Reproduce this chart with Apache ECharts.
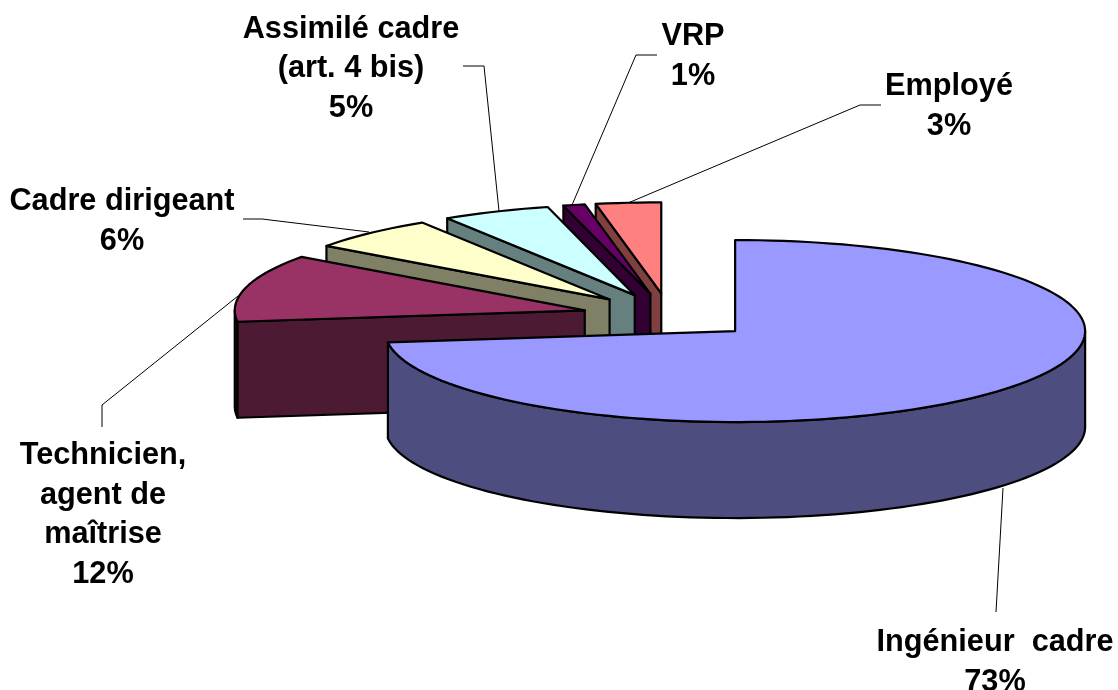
<!DOCTYPE html>
<html>
<head>
<meta charset="utf-8">
<style>html,body{margin:0;padding:0;background:#fff}#c{width:1118px;height:690px}</style>
<script src="https://cdn.jsdelivr.net/npm/echarts@6/dist/echarts.min.js"></script>
</head>
<body>
<div id="c"></div>
<script>
// Data, clockwise from 12 o'clock
const categories = ['Ingénieur  cadre', 'Technicien,\nagent de\nmaîtrise', 'Cadre dirigeant', 'Assimilé cadre\n(art. 4 bis)', 'VRP', 'Employé'];
const shares = [73, 12, 6, 5, 1, 3];
const topColors = ['#9999FF', '#993366', '#FFFFCC', '#CCFFFF', '#660066', '#FF8080'];
const sideColors = ['#4D4D80', '#4D1A33', '#808066', '#668080', '#330033', '#804040'];

// Layout (projection of the 3D pie and label placement)
const pie = { cx: 669.5, cy: 316, rx: 350, ry: 91, depth: 96, explode: 87.5 };
const labelPos = [[995, 623], [103, 436], [122, 182], [351, 9.5], [693, 17], [949, 67]];
const leaders = [
  [[996, 612], [1003, 488]],
  [[102, 427], [102, 405], [238, 296]],
  [[243, 219], [262, 219], [369, 232]],
  [[463, 66], [484, 66], [499, 211]],
  [[657, 55], [636, 55], [572, 205]],
  [[881, 105], [860, 105], [628, 203]]
];
const drawOrder = [5, 4, 3, 2, 1, 0];
const total = shares.reduce((a, b) => a + b, 0);

function pointAt(ox, oy, deg) {
  const t = deg * Math.PI / 180;
  return [ox + pie.rx * Math.sin(t), oy - pie.ry * Math.cos(t)];
}
function arc(ox, oy, a0, a1) {
  const pts = [];
  const n = Math.max(2, Math.ceil(Math.abs(a1 - a0) / 2));
  for (let i = 0; i <= n; i++) pts.push(pointAt(ox, oy, a0 + (a1 - a0) * i / n));
  return pts;
}
const down = p => [p[0], p[1] + pie.depth];
const edge = { stroke: '#000', lineWidth: 2.2, lineJoin: 'round' };

function renderItem(params, api) {
  const idx = api.value(0);
  const value = api.value(1);
  let before = 0;
  for (let i = 0; i < idx; i++) before += shares[i];
  const a0 = before / total * 360;
  const a1 = a0 + value / total * 360;
  const mid = (a0 + a1) / 2 * Math.PI / 180;
  const ox = pie.cx + pie.explode * Math.sin(mid);
  const oy = pie.cy - pie.explode * (pie.ry / pie.rx) * Math.cos(mid);
  const apex = [ox, oy];
  const children = [];
  // outer wall: the part of the rim that faces the viewer
  const w0 = Math.max(a0, 90), w1 = Math.min(a1, 270);
  if (w1 > w0) {
    const rim = arc(ox, oy, w0, w1);
    children.push({
      type: 'polygon',
      shape: { points: rim.concat(rim.slice().reverse().map(down)) },
      style: Object.assign({ fill: sideColors[idx] }, edge)
    });
  }
  // cut face at the slice's starting radius
  if (a0 > 180) {
    const s = pointAt(ox, oy, a0);
    children.push({
      type: 'polygon',
      shape: { points: [apex, s, down(s), down(apex)] },
      style: Object.assign({ fill: sideColors[idx] }, edge)
    });
  }
  // top face
  children.push({
    type: 'polygon',
    shape: { points: [apex].concat(arc(ox, oy, a0, a1)) },
    style: Object.assign({ fill: topColors[idx] }, edge)
  });
  return { type: 'group', children };
}

function renderLabel(params, api) {
  const idx = api.value(0);
  const value = api.value(1);
  return {
    type: 'group',
    children: [
      {
        type: 'polyline',
        shape: { points: leaders[idx] },
        style: { stroke: '#000', lineWidth: 1, fill: null }
      },
      {
        type: 'text',
        x: labelPos[idx][0],
        y: labelPos[idx][1],
        style: {
          text: categories[idx] + '\n' + value + '%',
          fill: '#000',
          font: 'bold 30.7px "Liberation Sans", Arial, sans-serif',
          lineHeight: 39.5,
          align: 'center',
          verticalAlign: 'top'
        }
      }
    ]
  };
}

const rows = drawOrder.map(i => [i, shares[i]]);
const chart = echarts.init(document.getElementById('c'), null, { width: 1118, height: 690 });
chart.setOption({
  animation: false,
  backgroundColor: '#fff',
  series: [
    { type: 'custom', coordinateSystem: 'none', renderItem: renderLabel, data: rows, z: 1, silent: true },
    { type: 'custom', coordinateSystem: 'none', renderItem: renderItem, data: rows, z: 2, silent: true }
  ]
});
</script>
</body>
</html>
